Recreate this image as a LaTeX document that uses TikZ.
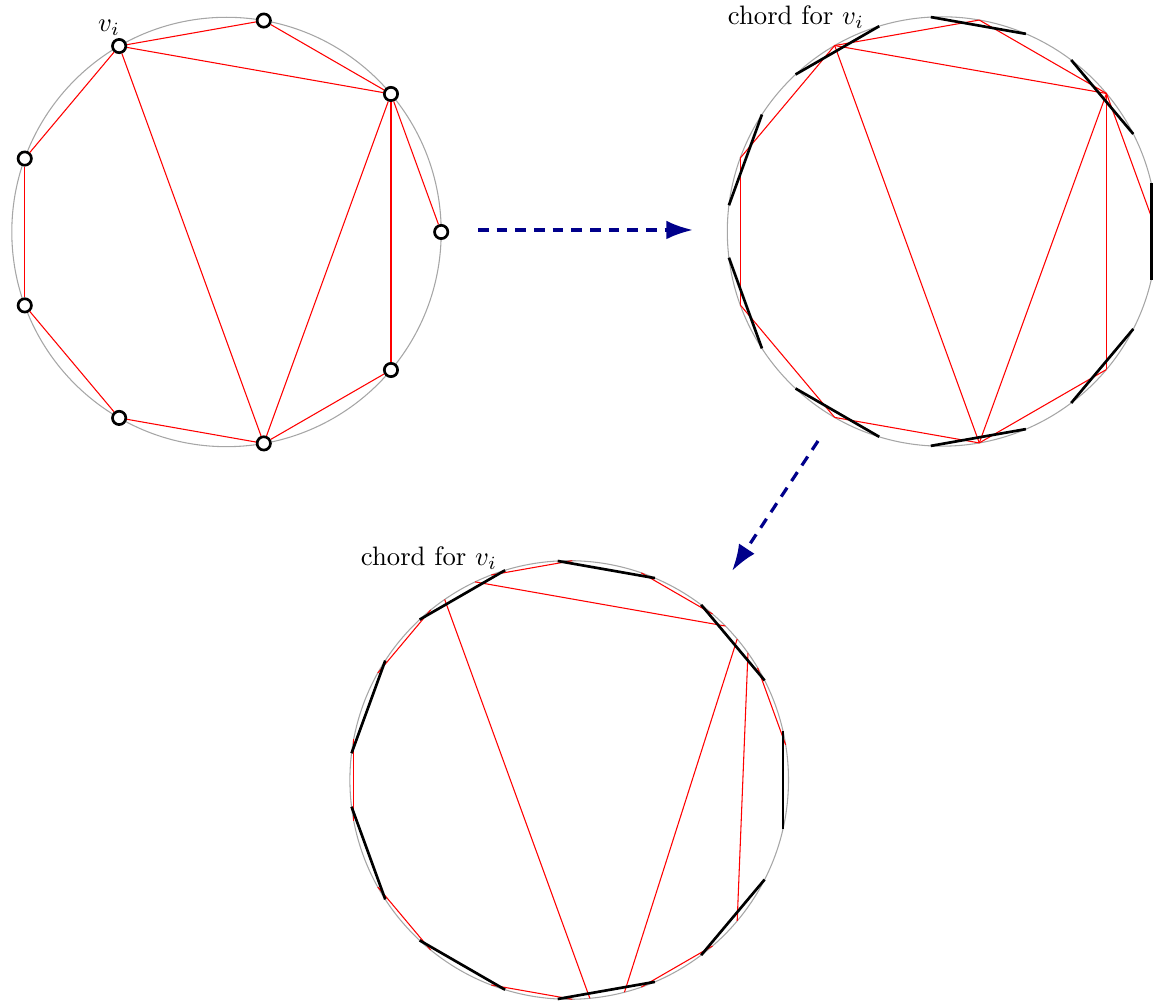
\documentclass[tikz,border=0pt]{standalone}
\usetikzlibrary{arrows.meta}
\definecolor{arrowblue}{RGB}{0,0,139}
\tikzset{
  rim/.style={draw=black!35, line width=0.4pt},
  edge/.style={draw=red, line width=0.4pt},
  chordline/.style={draw=black, line width=1pt},
  vert/.style={circle, draw=black, fill=white, line width=1pt, minimum size=5pt, inner sep=0pt},
  flow/.style={draw=arrowblue, line width=1.2pt, dash pattern=on 4pt off 3pt, -{Latex[length=10pt,width=7pt]}},
  lbl/.style={inner sep=0pt}
}
\begin{document}
\begin{tikzpicture}[x=0.375pt,y=0.375pt]
\useasboundingbox (0,0) rectangle (1153,1001);

% ---------- circle 1 ----------
\coordinate (O1) at (226.5,769);
\draw[rim] (O1) circle (214.7);
\begin{scope}[shift={(226.5,769)}]
  \foreach \a in {0,40,...,320} \node[vert] (n\a) at (\a:214.7) {};
\end{scope}
\foreach \u/\v in {120/80,80/40,40/120,120/160,160/200,200/240,240/280,120/280,40/280,40/0,40/320,320/280}
  \draw[edge] (n\u) -- (n\v);
\node[lbl] (vi) at (109,973) {$v_i$};

% ---------- circle 2 ----------
\coordinate (O2) at (942,769.5);
\draw[rim] (O2) circle (214.7);
\begin{scope}[shift={(942,769.5)}]
  \foreach \a in {0,40,...,320}{
    \coordinate (b\a) at (\a:214.7);
    \coordinate (b\a-lo) at ({\a-13}:214.7);
    \coordinate (b\a-hi) at ({\a+13}:214.7);
  }
\end{scope}
\foreach \u/\v in {120/80,80/40,40/120,120/160,160/200,200/240,240/280,120/280,40/280,40/0,40/320,320/280}
  \draw[edge] (b\u) -- (b\v);
\foreach \a in {0,40,...,320}
  \draw[chordline] (b\a-lo) -- (b\a-hi);
\node[lbl] (chord2) at (796,983.5) {chord for $v_i$};

% ---------- circle 3 ----------
\coordinate (O3) at (569.2,221);
\draw[rim] (O3) circle (219.3);
\begin{scope}[shift={(569.2,221)}]
  \foreach \a in {0,40,...,320}{
    \foreach \k in {0,...,4}
      \coordinate (c\a-\k) at ({\a+4.6*(\k-2)}:219.3);
    \coordinate (c\a-lo) at ({\a-13}:219.3);
    \coordinate (c\a-hi) at ({\a+13}:219.3);
  }
\end{scope}
\foreach \u/\p/\v/\q in {120/0/80/4,80/0/40/4,40/3/120/1,120/4/160/0,160/4/200/0,200/4/240/0,240/4/280/0,120/3/280/1,40/2/280/3,40/0/0/4,40/1/320/2,320/0/280/4}
  \draw[edge] (c\u-\p) -- (c\v-\q);
\foreach \a in {0,40,...,320}
  \draw[chordline] (c\a-lo) -- (c\a-hi);
\node[lbl] (chord3) at (429,442.5) {chord for $v_i$};

% ---------- arrows ----------
\coordinate (f1s) at (478,771);
\coordinate (f1e) at (693,771);
\coordinate (f2s) at (818,560);
\coordinate (f2e) at (732,430);
\draw[flow] (f1s) -- (f1e);
\draw[flow] (f2s) -- (f2e);
\end{tikzpicture}
\end{document}
